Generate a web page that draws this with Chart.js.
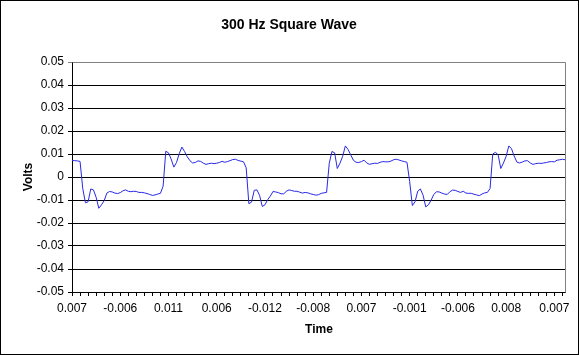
<!DOCTYPE html>
<html>
<head>
<meta charset="utf-8">
<script src="https://cdn.jsdelivr.net/npm/chart.js@4"></script>
<style>
  html, body { margin: 0; padding: 0; background: #fff; }
  #wrap { width: 579px; height: 355px; box-sizing: border-box; border: 1px solid #000; background: #fff; }
  canvas { display: block; }
</style>
</head>
<body>
<div id="wrap"><canvas id="c" width="577" height="353"></canvas></div>
<script>
const chartTitle = "300 Hz Square Wave";
const xTitle = "Time";
const yTitle = "Volts";
const tickLabels = ["0.007","-0.006","0.011","0.006","-0.012","-0.008","0.007","-0.001","-0.006","0.008","0.007"];
const volts = [
 0.0072,0.0071,0.007,0.0068,-0.0049,-0.0112,-0.0108,-0.0052,-0.0056,-0.0088,
 -0.0136,-0.0121,-0.0103,-0.007,-0.0063,-0.0065,-0.007,-0.0072,-0.0068,-0.006,
 -0.0056,-0.0062,-0.0064,-0.0062,-0.0063,-0.0067,-0.0067,-0.0069,-0.0072,-0.0076,
 -0.008,-0.0078,-0.0074,-0.0071,-0.004,0.0112,0.0105,0.0078,0.0043,0.0063,
 0.0101,0.013,0.0111,0.0088,0.0071,0.0061,0.0063,0.007,0.0068,0.006,
 0.0055,0.0058,0.006,0.0058,0.006,0.0063,0.0068,0.0064,0.0067,0.0071,
 0.0076,0.0077,0.0072,0.0069,0.0066,0.004,-0.0116,-0.0109,-0.0058,-0.0056,
 -0.008,-0.0128,-0.0121,-0.0099,-0.0083,-0.0063,-0.0065,-0.0068,-0.0073,-0.0073,
 -0.0062,-0.0056,-0.0059,-0.0062,-0.0062,-0.0066,-0.007,-0.0067,-0.0069,-0.0073,
 -0.0076,-0.0079,-0.0077,-0.0071,-0.0069,-0.0067,0.006,0.0111,0.0105,0.0037,
 0.006,0.009,0.0135,0.012,0.0096,0.0073,0.0064,0.0063,0.0067,0.0073,
 0.0061,0.0055,0.0058,0.006,0.0059,0.0064,0.0067,0.0066,0.0066,0.0069,
 0.0075,0.0077,0.0074,0.007,0.0067,0.0064,-0.002,-0.0124,-0.0108,-0.0062,
 -0.0052,-0.0079,-0.013,-0.0121,-0.0101,-0.0076,-0.0064,-0.0065,-0.007,-0.0074,
 -0.0076,-0.0064,-0.0057,-0.0058,-0.0063,-0.0067,-0.0062,-0.007,-0.0071,-0.0071,
 -0.0075,-0.0078,-0.0081,-0.0074,-0.0069,-0.0067,-0.005,0.01,0.0107,0.0097,
 0.0037,0.0061,0.009,0.0135,0.0123,0.0091,0.0065,0.0061,0.0065,0.007,
 0.0071,0.0061,0.0055,0.0058,0.006,0.0059,0.0061,0.0063,0.0066,0.0067,
 0.0066,0.0073,0.0075,0.0077,0.0075
];
const categories = volts.map((_, i) => i);
const labelEvery = 18;
const tickEvery = 3;
const yMin = -0.05, yMax = 0.05, yStep = 0.01;

const FONT = "'Liberation Sans', Arial, sans-serif";

const textPlugin = {
  id: 'texts',
  afterDraw(chart) {
    const ctx = chart.ctx;
    const a = chart.chartArea;
    ctx.save();
    // grey plot-area border (top and right)
    ctx.strokeStyle = '#808080';
    ctx.lineWidth = 1;
    ctx.beginPath();
    const r = Math.round(a.right) + 0.5;
    const t = Math.round(a.top) + 0.5;
    ctx.moveTo(Math.round(a.left) + 0.5, t);
    ctx.lineTo(r, t);
    ctx.lineTo(r, Math.round(a.bottom) + 0.5);
    ctx.stroke();
    ctx.fillStyle = '#000';
    ctx.textAlign = 'center';
    ctx.textBaseline = 'middle';
    ctx.font = "bold 14px " + FONT;
    ctx.fillText(chartTitle, 288, 24);
    ctx.font = "bold 12px " + FONT;
    ctx.fillText(xTitle, 318, 328.5);
    ctx.translate(28, 176);
    ctx.rotate(-Math.PI / 2);
    ctx.fillText(yTitle, 0, 0);
    ctx.restore();
  }
};

new Chart(document.getElementById('c'), {
  type: 'line',
  data: {
    labels: categories,
    datasets: [{
      data: volts,
      borderColor: 'rgb(40,40,230)',
      borderWidth: 1,
      pointRadius: 0,
      tension: 0,
      fill: false
    }]
  },
  options: {
    responsive: false,
    animation: false,
    events: [],
    layout: { padding: { top: 61, right: 12.9, left: 0, bottom: 0 } },
    plugins: { legend: { display: false }, title: { display: false }, tooltip: { enabled: false } },
    scales: {
      x: {
        type: 'category',
        offset: false,
        afterFit(s) { s.height = 62; },
        border: { display: true, color: '#000', width: 1 },
        grid: {
          drawOnChartArea: false,
          drawTicks: true,
          tickLength: 4,
          color: (c) => (c.index % tickEvery === 0 ? '#000' : 'rgba(0,0,0,0)')
        },
        ticks: {
          autoSkip: false,
          maxRotation: 0,
          minRotation: 0,
          padding: 5,
          color: '#000',
          font: { family: FONT, size: 12 },
          callback: (v, i) => (i % labelEvery === 0 && tickLabels[i / labelEvery] !== undefined ? tickLabels[i / labelEvery] : '')
        }
      },
      y: {
        min: yMin,
        max: yMax,
        afterFit(s) { s.width = 71; },
        border: { display: true, color: '#000', width: 1 },
        grid: {
          color: (c) => (c.tick && Math.abs(c.tick.value - yMax) < 1e-9 ? '#808080' : '#000'),
          lineWidth: 1,
          drawTicks: true,
          tickLength: 4
        },
        ticks: {
          stepSize: yStep,
          padding: 4,
          color: '#000',
          font: { family: FONT, size: 12 },
          callback: (v) => String(Math.round(v * 100) / 100)
        }
      }
    }
  },
  plugins: [textPlugin]
});
</script>
</body>
</html>
